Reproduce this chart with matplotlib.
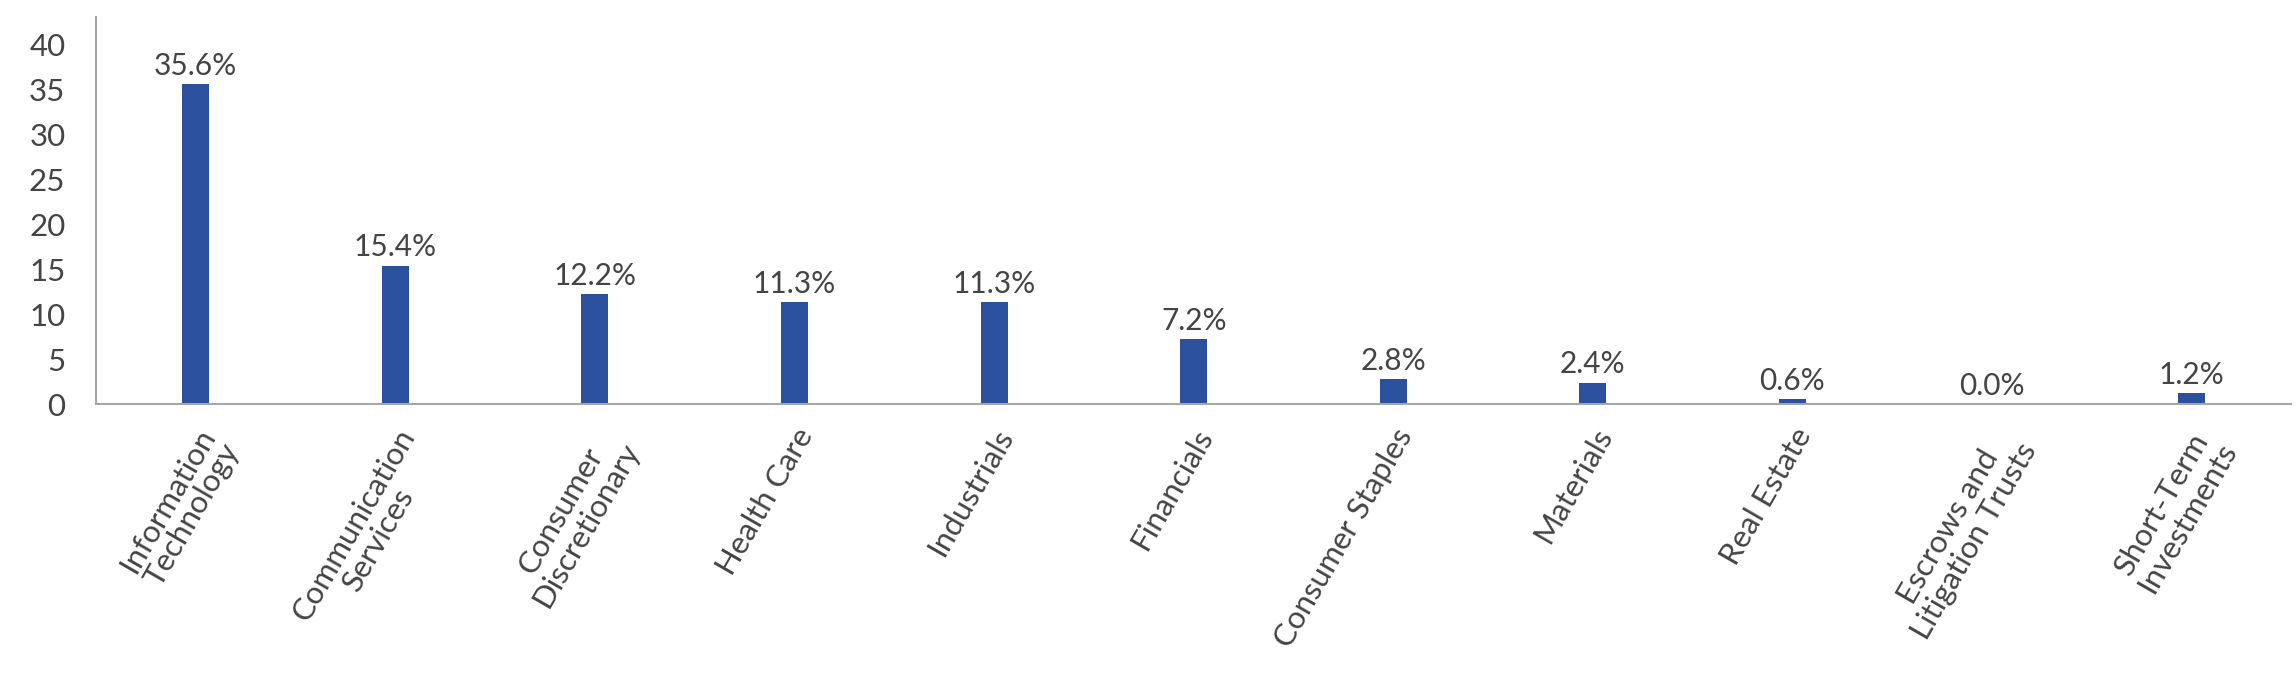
import matplotlib
matplotlib.use("Agg")
import matplotlib.pyplot as plt

categories = ["Information\nTechnology", "Communication\nServices", "Consumer\nDiscretionary",
              "Health Care", "Industrials", "Financials", "Consumer Staples", "Materials",
              "Real Estate", "Escrows and\nLitigation Trusts", "Short-Term\nInvestments"]
values = [35.6, 15.4, 12.2, 11.3, 11.3, 7.2, 2.8, 2.4, 0.6, 0.0, 1.2]
yticks = [0, 5, 10, 15, 20, 25, 30, 35, 40]

plt.rcParams['font.family'] = ['Lato', 'DejaVu Sans']
text_color = '#444444'

fig = plt.figure(figsize=(22.96, 6.92), dpi=100)
ax = fig.add_axes([0.0418, 0.416, 0.9562, 0.559])

x = list(range(len(categories)))
bars = ax.bar(x, values, width=0.135, color='#2b509e')
for xi, v in zip(x, values):
    ax.annotate(f"{v:.1f}%", (xi, v), xytext=(0, 3), textcoords='offset points',
                ha='center', va='bottom', fontsize=21.5, color=text_color)

ax.set_xlim(-0.5, 10.5)
ax.set_ylim(0, 43)
ax.set_yticks(yticks)
ax.set_yticklabels([str(t) for t in yticks], fontsize=22.5, color=text_color)
ax.set_xticks(x)
ax.set_xticklabels(categories, rotation=60, ha='right', rotation_mode='anchor',
                   fontsize=22.5, color=text_color, multialignment='center',
                   linespacing=1.05)
ax.tick_params(axis='both', length=0)
ax.tick_params(axis='x', pad=14)
ax.tick_params(axis='y', pad=22)
for s in ['top', 'right']:
    ax.spines[s].set_visible(False)
for s in ['left', 'bottom']:
    ax.spines[s].set_color('#a6a6a6')
    ax.spines[s].set_linewidth(1.5)

fig.savefig("out.png", dpi=100)
